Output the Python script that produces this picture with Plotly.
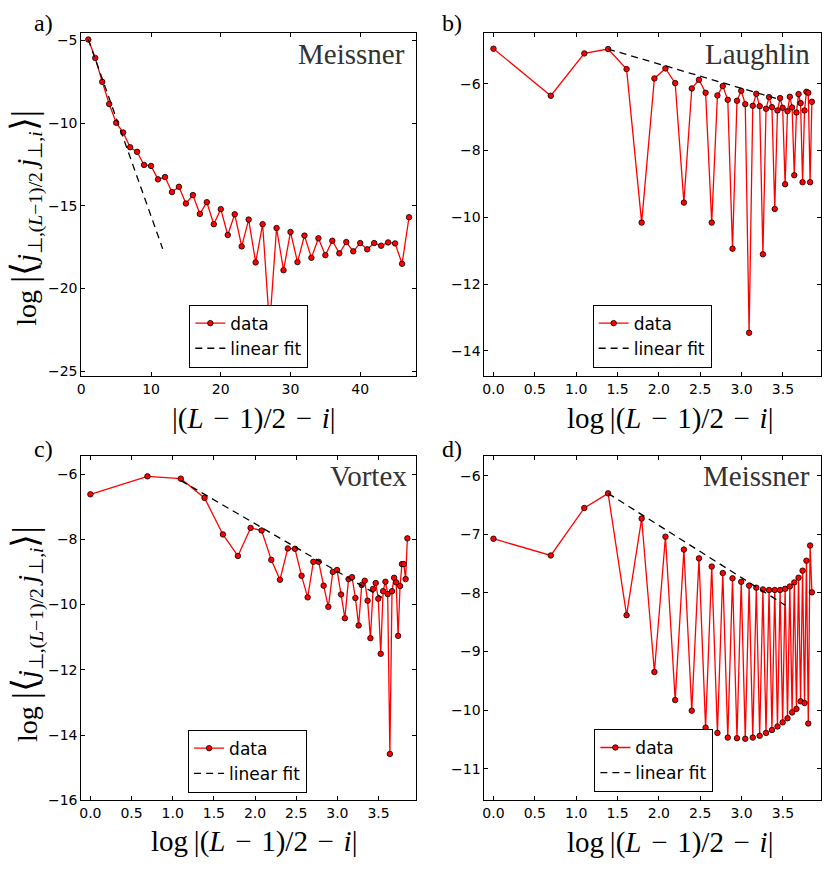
import numpy as np
import plotly.graph_objects as go

W, H = 831, 869

# distances |(L-1)/2 - i|
dist = list(range(1, 48))

# a) Meissner, linear x axis
corr_a = [-4.95, -6.07, -7.51, -8.85, -9.98, -10.57, -11.46, -11.74, -12.53, -12.59,
          -13.40, -13.26, -14.17, -13.85, -14.86, -14.35, -15.49, -14.78, -16.11, -15.20,
          -16.76, -15.51, -17.45, -15.83, -18.42, -16.11, -22.3, -16.34, -18.89, -16.58,
          -18.40, -16.80, -18.14, -16.96, -17.98, -17.11, -17.87, -17.19, -17.75, -17.25,
          -17.63, -17.25, -17.41, -17.21, -17.27, -18.50, -15.69]
fit_a_x = [1, 11.67]
fit_a_y = [-4.95, -17.6]

# b) Laughlin
corr_b = [-4.95, -6.36, -5.09, -4.96, -5.56, -10.16, -5.84, -5.54, -5.98, -9.56,
          -6.14, -5.88, -6.27, -10.16, -6.35, -6.07, -6.48, -10.94, -6.51, -6.21,
          -6.61, -13.46, -6.66, -6.30, -6.67, -11.11, -6.75, -6.40, -6.70, -9.75,
          -6.80, -6.43, -6.72, -9.01, -6.82, -6.39, -6.71, -8.74, -6.86, -6.31,
          -6.58, -8.95, -6.80, -6.24, -6.27, -8.95, -6.54]
fit_b_x = [1.386, 3.47]
fit_b_y = [-4.96, -6.48]

# c) Vortex
corr_c = [-6.62, -6.07, -6.14, -6.73, -7.85, -8.51, -7.65, -7.73, -8.63, -9.24,
          -8.28, -8.29, -9.12, -9.78, -8.69, -8.69, -9.42, -10.07, -9.00, -8.94,
          -9.69, -10.42, -9.22, -9.16, -9.80, -10.64, -9.40, -9.27, -9.88, -11.03,
          -9.52, -9.34, -9.82, -11.51, -9.59, -9.30, -9.68, -14.58, -9.59, -9.18,
          -9.32, -10.96, -9.43, -8.76, -8.76, -9.22, -7.97]
fit_c_x = [1.099, 3.54]
fit_c_y = [-6.2, -9.78]

# d) Meissner
corr_d = [-7.075, -7.36, -6.55, -6.30, -8.38, -6.73, -9.35, -7.04, -9.83, -7.26,
          -10.01, -7.41, -10.30, -7.55, -10.39, -7.66, -10.47, -7.75, -10.48, -7.81,
          -10.49, -7.875, -10.47, -7.91, -10.44, -7.94, -10.39, -7.95, -10.34, -7.95,
          -10.28, -7.95, -10.21, -7.93, -10.14, -7.89, -10.04, -7.82, -9.98, -7.74,
          -9.85, -7.62, -9.88, -7.45, -10.23, -7.19, -7.99]
fit_d_x = [1.386, 3.527]
fit_d_y = [-6.30, -8.21]

log_dist = np.log(dist)

panels = [
    ("", "x", "y", dist, corr_a, fit_a_x, fit_a_y),
    ("2", "x2", "y2", log_dist, corr_b, fit_b_x, fit_b_y),
    ("3", "x3", "y3", log_dist, corr_c, fit_c_x, fit_c_y),
    ("4", "x4", "y4", log_dist, corr_d, fit_d_x, fit_d_y),
]

fig = go.Figure()
for suf, xa, ya, xs, ys, fx, fy in panels:
    fig.add_trace(go.Scatter(
        x=xs, y=ys, mode="lines+markers", name="data", xaxis=xa, yaxis=ya,
        legend="legend" + suf,
        line=dict(color="red", width=1.3),
        marker=dict(size=5.5, color="red", line=dict(color="black", width=0.8))))
    fig.add_trace(go.Scatter(
        x=fx, y=fy, mode="lines", name="linear fit", xaxis=xa, yaxis=ya,
        legend="legend" + suf,
        line=dict(color="black", width=1.3, dash="7px,5px")))


def px_x(v):
    return v / W


def px_y(v):
    return 1 - v / H


tick_font = dict(family="DejaVu Sans", size=14, color="black")


def axis(dom, rng, dtick, fmt=None):
    d = dict(domain=dom, range=rng, dtick=dtick, tick0=0, ticks="inside", ticklen=4,
             tickwidth=1, tickcolor="black", showline=True, linecolor="black",
             linewidth=1, mirror="ticks", showgrid=False, zeroline=False,
             tickfont=tick_font)
    if fmt:
        d["tickformat"] = fmt
    return d


top_y = [px_y(379.3), px_y(33)]
bot_y = [px_y(807.7), px_y(460.7)]
left_x = [px_x(77.7), px_x(414)]
right_x = [px_x(482.7), px_x(820.5)]
log_rng = [-0.11, 3.955]

fig.update_layout(
    width=W, height=H,
    margin=dict(l=0, r=0, t=0, b=0),
    paper_bgcolor="white", plot_bgcolor="white",
    xaxis=axis(left_x, [0, 48], 10),
    yaxis=axis(top_y, [-25.27, -4.54], 5),
    xaxis2=axis(right_x, log_rng, 0.5, ".1f"),
    yaxis2=axis(top_y, [-14.75, -4.47], 2),
    xaxis3=axis(left_x, log_rng, 0.5, ".1f"),
    yaxis3=axis(bot_y, [-16, -5.46], 2),
    xaxis4=axis(right_x, log_rng, 0.5, ".1f"),
    yaxis4=axis(bot_y, [-11.54, -5.67], 1),
)
fig.layout.xaxis2.anchor = "y2"
fig.layout.yaxis2.anchor = "x2"
fig.layout.xaxis3.anchor = "y3"
fig.layout.yaxis3.anchor = "x3"
fig.layout.xaxis4.anchor = "y4"
fig.layout.yaxis4.anchor = "x4"

# one legend per panel
leg_pos = {"legend": (246, 371), "legend2": (651.3, 371),
           "legend3": (244.8, 800), "legend4": (653, 799.3)}
for name, (lx, ly) in leg_pos.items():
    fig.update_layout({name: dict(
        x=px_x(lx), y=px_y(ly), xanchor="center", yanchor="bottom",
        bordercolor="black", borderwidth=1, bgcolor="white",
        font=dict(family="DejaVu Sans", size=17, color="black"),
        itemwidth=30, tracegroupgap=0)})

serif = "Liberation Serif"
notes = []

# panel letters
for txt, x, y in [("a)", 39.5, 23), ("b)", 450, 23), ("c)", 40, 453), ("d)", 450, 453)]:
    notes.append(dict(text=txt, x=px_x(x), y=px_y(y), xanchor="center", yanchor="middle",
                      font=dict(family=serif, size=24, color="black")))

# phase names
for txt, x, y in [("Meissner", 405, 54), ("Laughlin", 811.7, 54.5),
                  ("Vortex", 406.7, 480), ("Meissner", 811.7, 480)]:
    notes.append(dict(text=txt, x=px_x(x), y=px_y(y), xanchor="right", yanchor="middle",
                      font=dict(family=serif, size=29, color="#333333")))

sp = "\u2004"
xlab_a = f"|(<i>L</i>{sp}−{sp}1)/2{sp}−{sp}<i>i</i>|"
xlab_log = "log\u2009" + xlab_a
for txt, x, y in [(xlab_a, 251, 422), (xlab_log, 669, 422),
                  (xlab_log, 251, 849), (xlab_log, 669, 850)]:
    notes.append(dict(text=txt, x=px_x(x), y=px_y(y), xanchor="center", yanchor="middle",
                      font=dict(family=serif, size=29, color="black")))

big = "<span style='font-size:36px'>{}</span>"
ylab = ("log " + big.format("|⟨") + "<i>j</i><sub>⊥,(<i>L</i>−1)/2</sub>\u2009"
        "<i>j</i><sub>⊥,<i>i</i></sub>" + big.format("⟩|"))
for y in [220, 640]:
    notes.append(dict(text=ylab, x=px_x(22), y=px_y(y), xanchor="center", yanchor="middle",
                      textangle=-90, font=dict(family=serif, size=28, color="black")))

for n in notes:
    n.update(xref="paper", yref="paper", showarrow=False)
fig.update_layout(annotations=notes)

# drop the default page margin so the figure sits at the window origin
fig.write_html("out.html", config={"displayModeBar": False},
               post_script="document.body.style.margin='0px';")
